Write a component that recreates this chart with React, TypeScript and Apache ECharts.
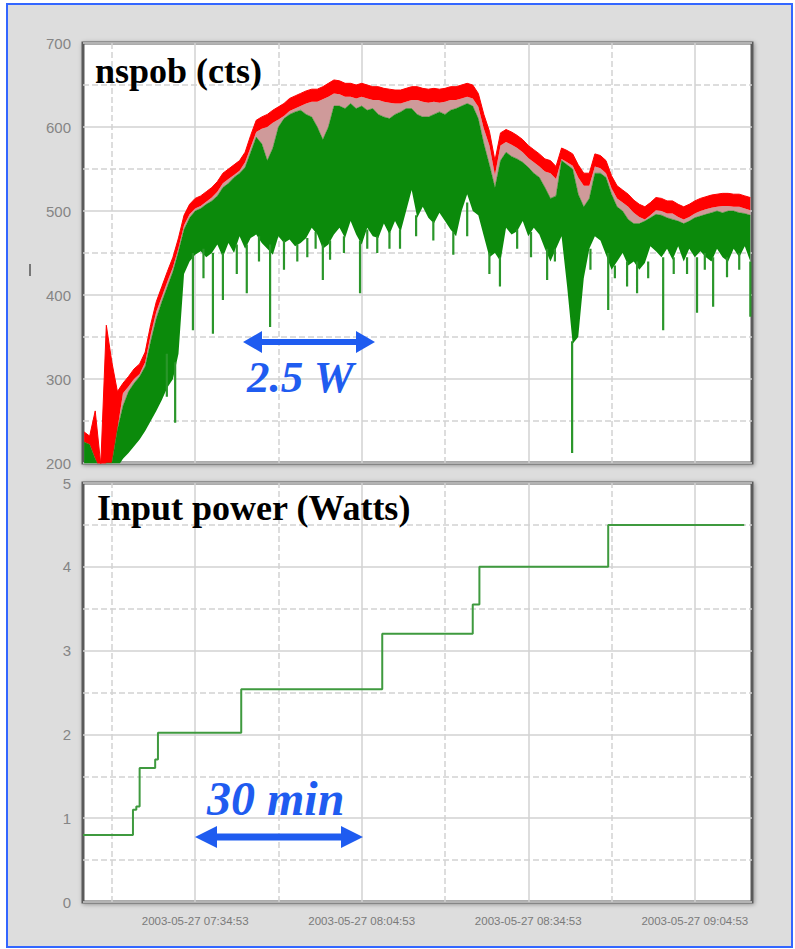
import React, { useEffect, useRef } from 'react';
import * as echarts from 'echarts';

// minutes since 2003-05-27 07:04:53
const sampleTimes = [
  10, 11, 12, 13, 14, 15, 16, 17, 18, 19, 20, 21, 22, 23, 24, 25, 26, 27, 28, 29,
  30, 31, 32, 33, 34, 35, 36, 37, 38, 39, 40, 41, 42, 43, 44, 45, 46, 47, 48, 49,
  50, 51, 52, 53, 54, 55, 56, 57, 58, 59, 60, 61, 62, 63, 64, 65, 66, 67, 68, 69,
  70, 71, 72, 73, 74, 75, 76, 77, 78, 79, 80, 81, 82, 83, 84, 85, 86, 87, 88, 89,
  90, 91, 92, 93, 94, 95, 96, 97, 98, 99, 100, 101, 102, 103, 104, 105, 106, 107, 108, 109,
  110, 111, 112, 113, 114, 115, 116, 117, 118, 119, 120, 121, 122, 123, 124, 125, 126, 127, 128, 129,
  130,
];

// red trace (maximum), upper edge
const countsMax = [
  237, 232, 262, 198, 364, 320, 285, 295, 303, 312, 318, 332, 365, 392, 410, 428, 445, 468, 495, 508,
  515, 518, 523, 528, 535, 545, 550, 555, 560, 570, 590, 608, 612, 615, 620, 624, 628, 634, 637, 640,
  643, 645, 645, 648, 652, 656, 655, 652, 652, 650, 652, 650, 648, 648, 646, 645, 644, 644, 646, 648,
  648, 646, 645, 646, 645, 646, 648, 648, 650, 652, 650, 640, 615, 595, 560, 593, 597, 594, 590, 585,
  578, 573, 568, 562, 560, 553, 575, 572, 568, 555, 545, 545, 568, 566, 560, 542, 530, 525, 520, 513,
  508, 505, 510, 516, 515, 512, 512, 508, 505, 508, 512, 515, 517, 519, 520, 521, 521, 520, 520, 518,
  516,
];

// lower edge of the solid red band (pinkish mix below it)
const countsMid = [
  225, 222, 205, 190, 200, 200, 240, 283, 291, 300, 306, 320, 353, 380, 398, 416, 433, 456, 483, 496,
  503, 506, 511, 516, 523, 533, 538, 543, 548, 558, 576, 594, 598, 600, 605, 609, 613, 619, 622, 625,
  628, 630, 630, 633, 636, 640, 639, 636, 636, 634, 636, 634, 632, 632, 630, 629, 628, 628, 630, 632,
  632, 630, 629, 630, 629, 630, 632, 632, 634, 636, 634, 624, 598, 578, 543, 578, 582, 579, 575, 570,
  563, 558, 553, 547, 545, 538, 562, 558, 554, 540, 530, 530, 553, 551, 545, 527, 515, 510, 505, 498,
  493, 490, 495, 501, 500, 497, 497, 493, 490, 493, 497, 500, 502, 504, 505, 506, 506, 505, 505, 503,
  501,
];

// green trace, upper edge
const countsUpper = [
  225, 222, 205, 190, 200, 200, 240, 268, 285, 295, 303, 315, 345, 372, 392, 410, 428, 452, 478, 492,
  500, 503, 508, 512, 518, 528, 533, 540, 545, 552, 570, 588, 580, 560, 575, 600, 610, 615, 618, 620,
  615, 612, 600, 585, 600, 625, 625, 622, 628, 622, 625, 620, 622, 615, 612, 610, 615, 618, 622, 622,
  615, 612, 612, 615, 618, 615, 620, 622, 625, 628, 625, 610, 580, 555, 528, 560, 570, 565, 562, 558,
  552, 545, 540, 528, 515, 518, 560, 555, 550, 520, 505, 515, 545, 545, 540, 520, 505, 500, 490, 485,
  485, 488, 492, 496, 495, 492, 490, 488, 485, 488, 492, 494, 496, 498, 500, 498, 500, 500, 498, 497,
  495,
];

// green trace, lower edge of the dense band
const countsLower = [
  195, 195, 195, 185, 195, 195, 195, 205, 212, 220, 228, 238, 250, 262, 275, 290, 300, 330, 425, 440,
  448, 452, 445, 450, 460, 445, 462, 450, 470, 455, 468, 472, 462, 455, 448, 470, 462, 466, 458, 462,
  468, 480, 472, 455, 460, 472, 480, 468, 488, 472, 460, 480, 470, 468, 485, 472, 488, 475, 500, 525,
  492, 505, 492, 485, 498, 488, 478, 470, 500, 520, 500, 495, 470, 445, 450, 440, 480, 472, 476, 488,
  470, 480, 472, 455, 440, 455, 470, 410, 342, 350, 420, 455, 470, 465, 448, 430, 440, 450, 435, 440,
  430, 438, 458, 452, 445, 455, 442, 458, 440, 455, 445, 452, 445, 440, 455, 445, 440, 455, 445, 458,
  440,
];

// isolated downward green spikes: time (min), lowest value, value where the spike joins the band
const spikeTimes = [
  24.9, 26.4, 29.6, 31.5, 33.2, 35.0, 37.5, 39.3, 41.5, 43.5, 46.0, 48.4, 50.2, 51.7, 53.0, 54.3,
  56.8, 59.7, 61.0, 62.8, 65.0, 66.9, 69.8, 72.9, 76.5, 79.0, 83.0, 84.9, 88.0, 90.5, 93.4, 94.8,
  97.9, 101.2, 104.4, 105.6, 107.8, 109.6, 111.6, 114.3, 116.2, 118.6, 120.4, 121.8, 123.3, 125.8,
  128.0, 130.0,
];
const spikeLows = [
  279, 248, 358, 420, 354, 394, 425, 402, 440, 362, 430, 440, 445, 455, 418, 442,
  450, 402, 455, 450, 455, 455, 470, 465, 448, 470, 425, 410, 455, 445, 418, 440,
  212, 430, 382, 420, 410, 402, 420, 358, 425, 425, 379, 430, 386, 421,
  430, 374,
];
const spikeTops = [
  330, 320, 450, 455, 450, 450, 460, 460, 470, 460, 465, 460, 468, 475, 460, 465,
  470, 465, 478, 470, 475, 478, 495, 488, 475, 510, 450, 445, 478, 475, 455, 455,
  345, 455, 450, 435, 440, 440, 440, 445, 445, 445, 445, 450, 445, 445,
  450, 440,
];

const powerTimes = [9.8, 18.8, 19.4, 20.0, 22.8, 23.3, 38.3, 63.7, 80.0, 81.2, 104.4, 128.9];
const powerWatts = [0.8, 1.1, 1.14, 1.6, 1.7, 2.02, 2.54, 3.2, 3.55, 4.0, 4.5, 4.5];

const timeTickValues = [30, 60, 90, 120];
const timeTickLabels = [
  '2003-05-27 07:34:53',
  '2003-05-27 08:04:53',
  '2003-05-27 08:34:53',
  '2003-05-27 09:04:53',
];
const timeMinorValues = [15, 45, 75, 105];

const T0 = Date.UTC(2003, 4, 27, 7, 4, 53);
const toMs = (minutes: number) => T0 + minutes * 60000;
const X_MIN = 9.8;
const X_MAX = 130.3;

const GRID_COLOR = '#d2d2d2';
const BLUE = '#1f5cf0';
const GREEN = '#0b8a0b';
const PINK = '#cf9a9a';
const RED = '#ff0000';

export default function App() {
  const ref = useRef<HTMLDivElement>(null);

  useEffect(() => {
    const chart = echarts.init(ref.current!, undefined, { renderer: 'svg' });

    // top panel: time axis (so the stack runs along y)
    const lowerData = sampleTimes.map((t, i) => [toMs(t), countsLower[i]]);
    const greenData = sampleTimes.map((t, i) => [toMs(t), countsUpper[i] - countsLower[i]]);
    const pinkData = sampleTimes.map((t, i) => [toMs(t), countsMid[i] - countsUpper[i]]);
    const redData = sampleTimes.map((t, i) => [toMs(t), countsMax[i] - countsMid[i]]);
    const spikeData: any[] = [];
    spikeTimes.forEach((t, i) => {
      spikeData.push([toMs(t), spikeTops[i]], [toMs(t), spikeLows[i]], [toMs(t), null]);
    });
    // bottom panel: minutes on a value axis
    const powerData = powerTimes.map((t, i) => [t, powerWatts[i]]);

    const makeVLines = (conv: (m: number) => number) => [
      ...timeMinorValues.map((v) => ({
        xAxis: conv(v),
        lineStyle: { type: 'dashed', color: GRID_COLOR, width: 1.5 },
      })),
      ...timeTickValues.map((v) => ({
        xAxis: conv(v),
        lineStyle: { type: 'solid', color: GRID_COLOR, width: 1.5 },
      })),
    ];
    const markLineOf = (conv: (m: number) => number) => ({
      silent: true,
      symbol: ['none', 'none'],
      label: { show: false },
      z: 1,
      data: makeVLines(conv),
    });

    const yLabel = {
      color: '#858585',
      fontSize: 15,
      fontFamily: 'Liberation Sans',
      margin: 12,
    };

    const frame = {
      show: true,
      backgroundColor: '#ffffff',
      borderColor: '#5a5a5a',
      borderWidth: 3,
      shadowColor: 'rgba(0,0,0,0.35)',
      shadowBlur: 4,
      shadowOffsetX: 1,
      shadowOffsetY: 1,
    };

    const band = (name: string, data: any[], color: string, lineW: number) => ({
      name,
      type: 'line',
      xAxisIndex: 0,
      yAxisIndex: 0,
      stack: 'cts',
      data,
      symbol: 'none',
      lineStyle: { width: lineW, color },
      areaStyle: { color, opacity: 1 },
      silent: true,
      z: 3,
    });

    const option: any = {
      animation: false,
      grid: [
        { left: 83, top: 43, width: 669, height: 420, ...frame },
        { left: 83, top: 483, width: 669, height: 419, ...frame },
      ],
      xAxis: [
        {
          type: 'time',
          gridIndex: 0,
          min: toMs(X_MIN),
          max: toMs(X_MAX),
          axisLine: { show: false },
          axisTick: { show: false },
          axisLabel: { show: false },
          splitLine: { show: false },
        },
        {
          type: 'value',
          gridIndex: 1,
          min: X_MIN,
          max: X_MAX,
          axisLine: { show: false },
          axisTick: { show: false },
          splitLine: { show: false },
          axisLabel: {
            customValues: timeTickValues,
            formatter: (v: number) => {
              const i = timeTickValues.indexOf(v);
              return i >= 0 ? timeTickLabels[i] : '';
            },
            color: '#7a7a7a',
            fontSize: 11.5,
            fontFamily: 'Liberation Sans',
            margin: 13,
          },
        },
      ],
      yAxis: [
        {
          type: 'value',
          gridIndex: 0,
          min: 200,
          max: 700,
          interval: 100,
          axisLine: { show: false },
          axisTick: { show: false },
          axisLabel: yLabel,
          splitLine: { show: true, lineStyle: { color: GRID_COLOR, width: 1.5 } },
          minorTick: { show: false, splitNumber: 2 },
          minorSplitLine: {
            show: true,
            lineStyle: { color: GRID_COLOR, width: 1.5, type: 'dashed' },
          },
        },
        {
          type: 'value',
          gridIndex: 1,
          min: 0,
          max: 5,
          interval: 1,
          axisLine: { show: false },
          axisTick: { show: false },
          axisLabel: yLabel,
          splitLine: { show: true, lineStyle: { color: GRID_COLOR, width: 1.5 } },
          minorTick: { show: false, splitNumber: 2 },
          minorSplitLine: {
            show: true,
            lineStyle: { color: GRID_COLOR, width: 1.5, type: 'dashed' },
          },
        },
      ],
      series: [
        {
          name: 'lower',
          type: 'line',
          xAxisIndex: 0,
          yAxisIndex: 0,
          stack: 'cts',
          data: lowerData,
          symbol: 'none',
          lineStyle: { width: 0, opacity: 0 },
          silent: true,
          markLine: markLineOf(toMs),
        },
        band('nspob green', greenData, GREEN, 0.5),
        band('nspob mix', pinkData, PINK, 0),
        band('nspob red', redData, RED, 1),
        {
          name: 'nspob spikes',
          type: 'line',
          xAxisIndex: 0,
          yAxisIndex: 0,
          data: spikeData,
          connectNulls: false,
          symbol: 'none',
          lineStyle: { width: 2.2, color: '#2a962a' },
          silent: true,
          z: 3,
        },
        {
          name: 'Input power',
          type: 'line',
          xAxisIndex: 1,
          yAxisIndex: 1,
          step: 'end',
          data: powerData,
          symbol: 'none',
          lineStyle: { width: 2, color: '#3f9a3f' },
          silent: true,
          z: 3,
          markLine: markLineOf((m) => m),
        },
      ],
      graphic: [
        {
          type: 'line',
          z: 100,
          shape: { x1: 30, y1: 264, x2: 30, y2: 276 },
          style: { stroke: '#555555', lineWidth: 1.5 },
        },
        {
          type: 'text',
          x: 95,
          y: 53,
          z: 100,
          style: {
            text: 'nspob (cts)',
            font: 'bold 36px "Liberation Serif", "Times New Roman", serif',
            fill: '#000',
          },
        },
        {
          type: 'text',
          x: 97,
          y: 490,
          z: 100,
          style: {
            text: 'Input power (Watts)',
            font: 'bold 36px "Liberation Serif", "Times New Roman", serif',
            fill: '#000',
          },
        },
        {
          type: 'text',
          x: 247,
          y: 354,
          z: 100,
          style: {
            text: '2.5 W',
            font: 'italic bold 45px "Liberation Serif", "Times New Roman", serif',
            fill: BLUE,
          },
        },
        {
          type: 'text',
          x: 207,
          y: 774,
          z: 100,
          style: {
            text: '30 min',
            font: 'italic bold 48px "Liberation Serif", "Times New Roman", serif',
            fill: BLUE,
          },
        },
        {
          type: 'polygon',
          z: 100,
          shape: {
            points: [
              [243, 342], [262, 331], [262, 339], [356, 339], [356, 331], [375, 342],
              [356, 353], [356, 345], [262, 345], [262, 353],
            ],
          },
          style: { fill: BLUE },
        },
        {
          type: 'polygon',
          z: 100,
          shape: {
            points: [
              [195, 837], [217, 826], [217, 833.5], [341, 833.5], [341, 826], [363, 837],
              [341, 848], [341, 840.5], [217, 840.5], [217, 848],
            ],
          },
          style: { fill: BLUE },
        },
      ],
    };

    chart.setOption(option);
    return () => chart.dispose();
  }, []);

  return (
    <div style={{ position: 'absolute', left: 0, top: 0, width: 795, height: 949, background: '#ffffff' }}>
      <div
        style={{
          position: 'absolute',
          left: 6,
          top: 3,
          width: 787,
          height: 945,
          boxSizing: 'border-box',
          border: '2px solid #3366ff',
          background: '#dddddd',
        }}
      />
      <div ref={ref} style={{ position: 'absolute', left: 0, top: 0, width: 795, height: 949 }} />
    </div>
  );
}
